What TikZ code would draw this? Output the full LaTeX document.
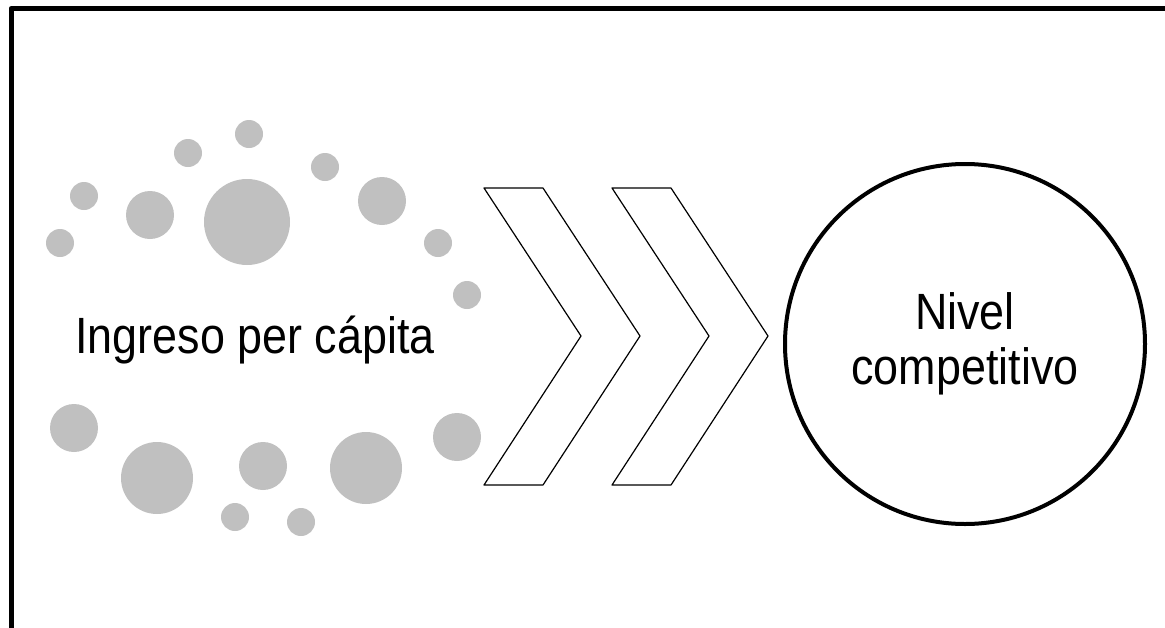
\documentclass[tikz,border=0pt]{standalone}
\usepackage{fontspec}
\newfontfamily\labelfont{Liberation Sans}[FakeStretch=0.88]
\definecolor{dotgray}{HTML}{C0C0C0}
\tikzset{
  dot/.style={fill=dotgray},
  chevron/.style={draw=black,line width=1.2pt,fill=white},
  label/.style={font=\labelfont\fontsize{51}{55}\selectfont,align=center,inner sep=0pt}
}
\begin{document}
\begin{tikzpicture}[x=1pt,y=-1pt,line join=round,line cap=round]
			\useasboundingbox (0,0) rectangle (1165,627);
			\clip (0,0) rectangle (1165,627);
			\draw[line width=5pt] (11,8.5) rectangle (1180,645);
			% puntos alrededor del texto
			\foreach \x/\y/\r in {249/134/14,188/153/14,325/167/14,84/196/14,150/215/24,247/222/43,382/201/24,60/243/14,438/243/14,467/295/14,
				74/428/24,157/478/36,263/466/24,366/468/36,457/437/24,235/517/14,301/522/14}
				\fill[dot] (\x,\y) circle (\r);
			\node[label,anchor=base] (ingreso) at (255,353) {Ingreso per cápita};
			% flechas
			\foreach \s in {0,128}
				\draw[chevron] (484+\s,188)--(543+\s,188)--(640+\s,336)--(543+\s,485)--(484+\s,485)--(581+\s,336)--cycle;
			\node[draw,circle,line width=4pt,minimum size=360pt,label] (nivel) at (965,344) {Nivel\\competitivo};
		\end{tikzpicture}
\end{document}
